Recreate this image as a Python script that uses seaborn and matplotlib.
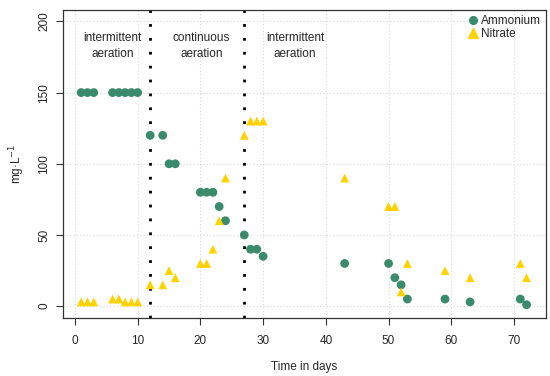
import numpy as np
import pandas as pd
import matplotlib
matplotlib.use("Agg")
import matplotlib.pyplot as plt
import seaborn as sns
from matplotlib.lines import Line2D

# data
amm_day = [1, 2, 3, 6, 7, 8, 9, 10, 12, 14, 15, 16, 20, 21, 22, 23, 24, 27, 28, 29, 30,
           43, 50, 51, 52, 53, 59, 63, 71, 72]
amm_val = [150, 150, 150, 150, 150, 150, 150, 150, 120, 120, 100, 100, 80, 80, 80, 70, 60,
           50, 40, 40, 35, 30, 30, 20, 15, 5, 5, 3, 5, 1]
nit_day = [1, 2, 3, 6, 7, 8, 9, 10, 12, 14, 15, 16, 20, 21, 22, 23, 24, 27, 28, 29, 30,
           43, 50, 51, 52, 53, 59, 63, 71, 72]
nit_val = [3, 3, 3, 5, 5, 3, 3, 3, 15, 15, 25, 20, 30, 30, 40, 60, 90, 120, 130, 130, 130,
           90, 70, 70, 10, 30, 25, 20, 30, 20]
phase_edges = [12, 27]
phase_labels = ["intermittent\naeration", "continuous\naeration", "intermittent\naeration"]
phase_x = [6, 20.2, 35.1]

df = pd.concat([
    pd.DataFrame({"day": amm_day, "value": amm_val, "species": "Ammonium"}),
    pd.DataFrame({"day": nit_day, "value": nit_val, "species": "Nitrate"}),
])

sns.set_style("white")
plt.rcParams["font.family"] = ["Liberation Sans", "DejaVu Sans"]

fig = plt.figure(figsize=(5.5, 3.76), dpi=100)
ax = fig.add_axes([63 / 550, 1 - 318 / 376, (546 - 63) / 550, (318 - 10) / 376])

palette = {"Ammonium": "#3A8A6C", "Nitrate": "#FFD200"}
markers = {"Ammonium": "o", "Nitrate": "^"}

ax.grid(True, color="#d9d9d9", linestyle=(0, (1, 2)), linewidth=0.8)
ax.set_axisbelow(True)

sns.scatterplot(data=df, x="day", y="value", hue="species", style="species",
                palette=palette, markers=markers, s=40, linewidth=0, ax=ax,
                legend=False, zorder=3)

for e in phase_edges:
    ax.axvline(e, color="black", linestyle=(0, (1, 4)), linewidth=2, zorder=2)

for xpos, lab in zip(phase_x, phase_labels):
    ax.text(xpos, 183, lab, ha="center", va="center", fontsize=8.5, linespacing=1.45)

handles = [Line2D([], [], marker="o", color=palette["Ammonium"], linestyle="", markersize=5.5),
           Line2D([], [], marker="^", color=palette["Nitrate"], linestyle="", markersize=6.5)]
ax.legend(handles, ["Ammonium", "Nitrate"], loc="upper right", frameon=False,
          fontsize=8.5, handletextpad=0.2, borderaxespad=0.1, labelspacing=0.15,
          handlelength=1.0, borderpad=0.3)

ax.set_xlim(-1.9, 75.1)
ax.set_ylim(-8.3, 208)
ax.set_xticks(np.arange(0, 71, 10))
ax.set_yticks(np.arange(0, 201, 50))
for lab in ax.get_yticklabels():
    lab.set_rotation(90)
    lab.set_va("center")
ax.tick_params(axis="both", direction="out", length=5, width=0.8, color="#333333",
               labelsize=8.5, bottom=True, left=True)
ax.tick_params(axis="x", pad=7)
ax.tick_params(axis="y", pad=4)
for s in ax.spines.values():
    s.set_color("#333333")
    s.set_linewidth(0.9)

ax.set_xlabel("Time in days", fontsize=8.5, labelpad=10)
ax.set_ylabel("mg·L$^{-1}$", fontsize=8.5, labelpad=8)

fig.savefig("out.png", dpi=100)
